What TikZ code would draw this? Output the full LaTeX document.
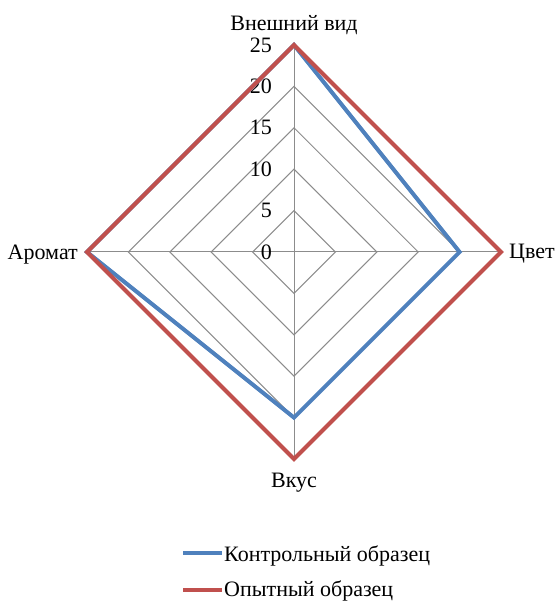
\documentclass[tikz,border=0pt]{standalone}
\usepackage{fontspec}
\setmainfont{Liberation Serif}
\newfontfamily\chartfont{Liberation Serif}
\usetikzlibrary{calc}

\definecolor{ctrlblue}{HTML}{4F81BD}
\definecolor{testred}{HTML}{C0504D}

\begin{document}
\begin{tikzpicture}[x=1pt, y=1pt,
    grid/.style = {draw=black!45, line width=1pt},
    series/.style = {line width=4pt, line join=miter},
    lbl/.style = {font=\chartfont\fontsize{22}{26}\selectfont, inner sep=0pt}]

  \useasboundingbox (-294,-349) rectangle (263,252);
  \def\unit{8.28}

  \coordinate (O) at (0,0);

  % grid rings
  \foreach \r in {5,10,15,20}
    \draw[grid] (90:\r*\unit) -- (0:\r*\unit) -- (-90:\r*\unit) -- (180:\r*\unit) -- cycle;

  % axes (0 top, 1 right, 2 bottom, 3 left)
  \foreach \i/\ang in {0/90, 1/0, 2/-90, 3/180} {
    \coordinate (AX_\i) at (\ang:25*\unit);
    \draw[grid] (O) -- (AX_\i);
  }

  % scale labels
  \foreach \v in {0,5,...,25}
    \node[lbl, anchor=east] (T_\v) at (-22,\v*\unit) {\v};

  % axis titles
  \node[lbl, anchor=base] (L_0) at (0,221) {Внешний вид};
  \node[lbl, anchor=base west] (L_1) at (215,-7) {Цвет};
  \node[lbl, anchor=base] (L_2) at (0,-235) {Вкус};
  \node[lbl, anchor=base east] (L_3) at (-216,-8) {Аромат};

  % data points
  \foreach \i/\ang/\k/\o in {0/90/25/25, 1/0/20/25, 2/-90/20/25, 3/180/25/25} {
    \coordinate (K_\i) at (\ang:\k*\unit);
    \coordinate (E_\i) at (\ang:\o*\unit);
  }

  \draw[series, ctrlblue] (K_0) -- (K_1) -- (K_2) -- (K_3) -- cycle;
  \draw[series, testred] (E_0) -- (E_1) -- (E_2) -- (E_3) -- cycle;

  % legend
  \coordinate (LK_a) at (-111,-301);
  \coordinate (LK_b) at (-72,-301);
  \coordinate (LE_a) at (-111,-338);
  \coordinate (LE_b) at (-72,-338);
  \draw[series, ctrlblue, line width=3.5pt] (LK_a) -- (LK_b);
  \draw[series, testred, line width=3.5pt] (LE_a) -- (LE_b);
  \node[lbl, anchor=base west] (leg_K) at (-70,-309) {Контрольный образец};
  \node[lbl, anchor=base west] (leg_E) at (-70,-344) {Опытный образец};

\end{tikzpicture}
\end{document}
